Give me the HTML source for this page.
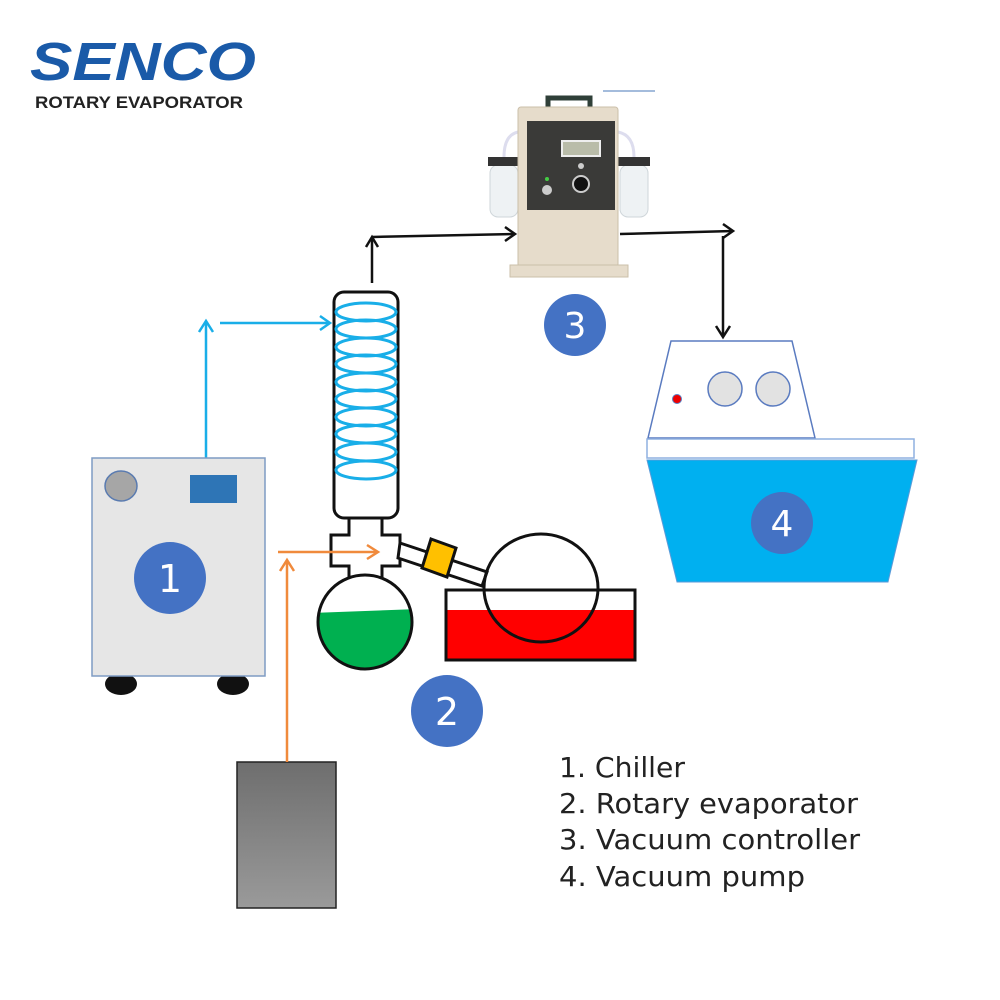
<!DOCTYPE html>
<html><head><meta charset="utf-8"><style>
html,body{margin:0;padding:0;background:#fff;}
svg{display:block;}
</style></head><body>
<svg width="1000" height="1000" viewBox="0 0 1000 1000" xmlns="http://www.w3.org/2000/svg">
<defs>
<linearGradient id="gb" x1="0" y1="0" x2="0" y2="1"><stop offset="0" stop-color="#6e6e6e"/><stop offset="1" stop-color="#9a9a9a"/></linearGradient>
</defs>
<rect width="1000" height="1000" fill="#fff"/>
<!-- logo -->
<text x="30" y="80" font-family="Liberation Sans, sans-serif" font-weight="bold" font-style="italic" font-size="54" fill="#1a5aa8" textLength="226" lengthAdjust="spacingAndGlyphs">SENCO</text>
<text x="35" y="108" font-family="Liberation Sans, sans-serif" font-weight="bold" font-size="17" fill="#222" textLength="208" lengthAdjust="spacingAndGlyphs">ROTARY EVAPORATOR</text>

<!-- vacuum controller -->
<g>
<path d="M548 112 V98 H590 V112" fill="none" stroke="#2f3f38" stroke-width="5"/>
<rect x="490" y="165" width="28" height="52" rx="8" fill="#eef2f4" stroke="#cfd6da"/>
<rect x="488" y="157" width="32" height="9" fill="#333"/>
<rect x="620" y="165" width="28" height="52" rx="8" fill="#eef2f4" stroke="#cfd6da"/>
<rect x="618" y="157" width="32" height="9" fill="#333"/>
<path d="M504 157 Q504 135 518 132 M634 157 Q634 135 618 132" fill="none" stroke="#dde" stroke-width="3"/>
<rect x="518" y="107" width="100" height="160" rx="3" fill="#e6dccb" stroke="#cbbfa9"/>
<rect x="527" y="121" width="88" height="89" fill="#3a3a38"/>
<rect x="562" y="141" width="38" height="15" fill="#b9bca9" stroke="#eee" stroke-width="2"/>
<circle cx="581" cy="166" r="3" fill="#ccc"/>
<circle cx="581" cy="184" r="8" fill="#111" stroke="#ccc" stroke-width="2"/>
<circle cx="547" cy="190" r="5" fill="#ccc"/>
<circle cx="547" cy="179" r="2" fill="#4c4"/>
<rect x="510" y="265" width="118" height="12" fill="#e6dccb" stroke="#cbbfa9"/>
<line x1="603" y1="91" x2="655" y2="91" stroke="#4a7ab8" stroke-width="1"/>
</g>

<!-- black arrows -->
<g stroke="#111" stroke-width="2.5" fill="none">
<line x1="372" y1="283" x2="372" y2="238"/>
<polyline points="366,247 372,237 378,247"/>
<line x1="372" y1="237" x2="515" y2="234"/>
<polyline points="505,227 515,234 505,241"/>
<line x1="620" y1="234" x2="733" y2="231"/>
<polyline points="723,224 733,231 723,238"/>
<line x1="723" y1="236" x2="723" y2="336"/>
<polyline points="716,326 723,337 730,326"/>
</g>

<!-- 3 -->
<circle cx="575" cy="325" r="31" fill="#4472c4"/>
<text x="575" y="338" text-anchor="middle" font-family="DejaVu Sans, sans-serif" font-size="36" fill="#fff">3</text>

<!-- pump -->
<polygon points="671,341 792,341 815,438 648,438" fill="#fff" stroke="#5a7bc0" stroke-width="1.5"/>
<circle cx="677" cy="399" r="4.5" fill="#e00" stroke="#5a7bc0"/>
<circle cx="725" cy="389" r="17" fill="#e2e2e2" stroke="#5a7bc0" stroke-width="1.5"/>
<circle cx="773" cy="389" r="17" fill="#e2e2e2" stroke="#5a7bc0" stroke-width="1.5"/>
<rect x="647" y="439" width="267" height="19" fill="#fff" stroke="#8fb0e0" stroke-width="1.5"/>
<polygon points="647,460 917,460 888,582 677,582" fill="#00b0f0" stroke="#5a9ad8"/>
<circle cx="782" cy="523" r="31" fill="#4472c4"/>
<text x="782" y="536" text-anchor="middle" font-family="DejaVu Sans, sans-serif" font-size="36" fill="#fff">4</text>

<!-- blue arrows -->
<g stroke="#19aee8" stroke-width="2.5" fill="none">
<line x1="206" y1="458" x2="206" y2="322"/>
<polyline points="199,332 206,321 213,332"/>
<line x1="220" y1="323" x2="330" y2="323"/>
<polyline points="320,316 330,323 320,330"/>
</g>

<!-- chiller -->
<ellipse cx="121" cy="684" rx="16" ry="11" fill="#111"/>
<ellipse cx="233" cy="684" rx="16" ry="11" fill="#111"/>
<rect x="92" y="458" width="173" height="218" fill="#e6e6e6" stroke="#7f9cc4" stroke-width="1.5"/>
<ellipse cx="121" cy="486" rx="16" ry="15" fill="#a6a6a6" stroke="#5a7bb0" stroke-width="1.5"/>
<rect x="190" y="475" width="47" height="28" fill="#2e75b6"/>
<circle cx="170" cy="578" r="36" fill="#4472c4"/>
<text x="170" y="592" text-anchor="middle" font-family="DejaVu Sans, sans-serif" font-size="38" fill="#fff">1</text>

<!-- gray box -->
<rect x="237" y="762" width="99" height="146" fill="url(#gb)" stroke="#222" stroke-width="1.5"/>

<!-- condenser -->
<rect x="334" y="292" width="64" height="226" rx="10" fill="#fff" stroke="#111" stroke-width="3"/>
<g fill="none" stroke="#19aee8" stroke-width="3">
<ellipse cx="366" cy="312" rx="30" ry="9"/>
<ellipse cx="366" cy="329" rx="30" ry="9"/>
<ellipse cx="366" cy="347" rx="30" ry="9"/>
<ellipse cx="366" cy="364" rx="30" ry="9"/>
<ellipse cx="366" cy="382" rx="30" ry="9"/>
<ellipse cx="366" cy="399" rx="30" ry="9"/>
<ellipse cx="366" cy="417" rx="30" ry="9"/>
<ellipse cx="366" cy="434" rx="30" ry="9"/>
<ellipse cx="366" cy="452" rx="30" ry="9"/>
<ellipse cx="366" cy="470" rx="30" ry="9"/>
</g>
<!-- cross connector -->
<polygon points="349,518 382,518 382,535 400,535 400,566 382,566 382,583 349,583 349,566 331,566 331,535 349,535" fill="#fff" stroke="#111" stroke-width="3"/>
<!-- small flask -->
<clipPath id="fc"><circle cx="365" cy="622" r="47"/></clipPath>
<circle cx="365" cy="622" r="47" fill="#fff"/>
<polygon points="310,613 420,609 420,680 310,680" fill="#00b050" clip-path="url(#fc)"/>
<circle cx="365" cy="622" r="47" fill="none" stroke="#111" stroke-width="3"/>

<!-- orange arrows (over the cross) -->
<g stroke="#f08a3c" stroke-width="2.5" fill="none">
<line x1="287" y1="762" x2="287" y2="561"/>
<polyline points="280,571 287,560 294,571"/>
<line x1="278" y1="552" x2="378" y2="552"/>
<polyline points="367,545 378,552 367,559"/>
</g>

<!-- tube -->
<polygon points="400,543 487,572 482,586 398,558" fill="#fff" stroke="#111" stroke-width="3"/>
<polygon points="431,539 456,548 447,577 422,568" fill="#ffc000" stroke="#111" stroke-width="3"/>
<!-- bath -->
<rect x="446" y="610" width="189" height="50" fill="#ff0000"/>
<rect x="446" y="590" width="189" height="70" fill="none" stroke="#111" stroke-width="3"/>
<ellipse cx="541" cy="588" rx="57" ry="54" fill="none" stroke="#111" stroke-width="3"/>

<!-- 2 -->
<circle cx="447" cy="711" r="36" fill="#4472c4"/>
<text x="447" y="725" text-anchor="middle" font-family="DejaVu Sans, sans-serif" font-size="38" fill="#fff">2</text>

<!-- legend -->
<g font-family="DejaVu Sans, sans-serif" font-size="28" fill="#222">
<text x="559" y="777" textLength="126" lengthAdjust="spacingAndGlyphs">1. Chiller</text>
<text x="559" y="813" textLength="299" lengthAdjust="spacingAndGlyphs">2. Rotary evaporator</text>
<text x="559" y="849" textLength="301" lengthAdjust="spacingAndGlyphs">3. Vacuum controller</text>
<text x="559" y="886" textLength="246" lengthAdjust="spacingAndGlyphs">4. Vacuum pump</text>
</g>
</svg>
</body></html>
